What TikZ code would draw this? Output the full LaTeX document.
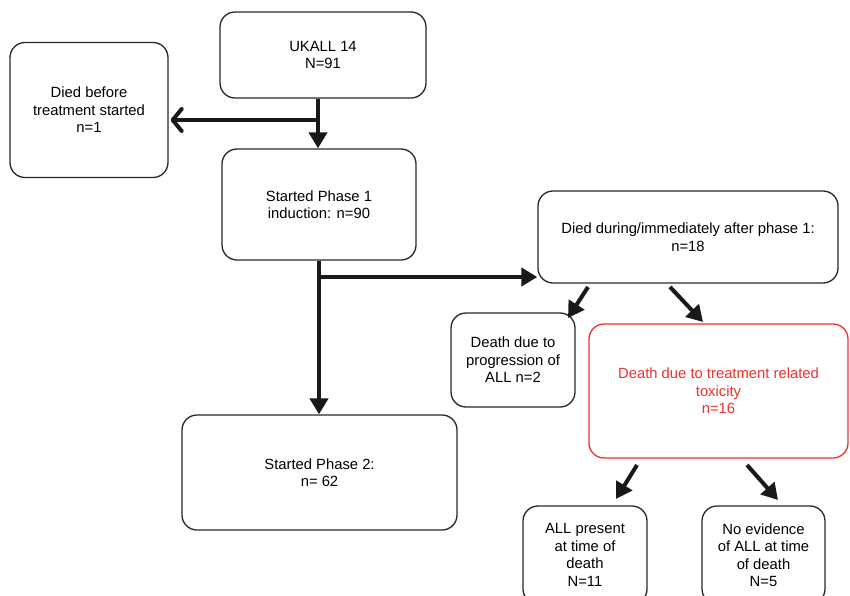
\documentclass[tikz,border=0pt]{standalone}
\usepackage{fontspec}
\setmainfont{Liberation Sans}
\usetikzlibrary{arrows.meta}
\definecolor{boxgray}{RGB}{40,40,40}
\definecolor{toxred}{RGB}{235,50,45}
\definecolor{arrowk}{RGB}{25,25,25}
\begin{document}
\begin{tikzpicture}[x=1pt,y=-1pt,
  box/.style={draw=boxgray,line width=1.3pt,rounded corners=15pt,align=center,
    font=\fontsize{14.8}{17.5}\selectfont,inner sep=2pt},
  redbox/.style={box,draw=toxred,text=toxred},
  arr/.style={draw=arrowk,line width=4pt,-{Triangle[length=16pt,width=18pt]}},
  barb/.style={draw=arrowk,line width=4pt,line cap=round,-{Straight Barb[length=9pt,width=22pt,round]}},
  ln/.style={draw=arrowk,line width=4pt}]
\useasboundingbox (0,0) rectangle (850,596);
\fill[white] (0,0) rectangle (850,596);
\begin{scope}
\clip (0,0) rectangle (850,596);
\node[box,minimum width=206pt,minimum height=86pt] (ukall) at (323,55) {UKALL 14\\N=91};
\node[box,minimum width=158pt,minimum height=135pt] (before) at (89,110) {Died before\\treatment started\\n=1};
\node[box,minimum width=194pt,minimum height=111pt] (p1) at (319,204.5) {Started Phase 1\\induction: n=90};
\node[box,minimum width=300pt,minimum height=92pt] (died) at (688,237) {Died during/immediately after phase 1:\\n=18};
\node[box,minimum width=124pt,minimum height=94pt] (prog) at (513,360) {Death due to\\progression of\\ALL n=2};
\node[redbox,minimum width=259pt,minimum height=134pt] (tox) at (718.5,391) {Death due to treatment related\\toxicity\\ n=16};
\node[box,minimum width=275pt,minimum height=115pt] (p2) at (319.5,472.5) {Started Phase 2:\\n= 62};
\node[box,minimum width=124pt,minimum height=98pt] (allp) at (585,555) {ALL present\\at time of\\death\\N=11};
\node[box,minimum width=123pt,minimum height=98pt] (noev) at (763.5,555) {No evidence\\of ALL at time\\of death\\N=5};
\end{scope}
% connectors
\coordinate (j1) at (318,120);
\coordinate (j2) at (319,277);
\draw[arr] (ukall.south -| j1) -- (p1.north -| j1);
\draw[barb] (j1) -- ([xshift=2pt]before.east |- j1);
\draw[arr] (p1.south -| j2) -- (p2.north -| j2);
\draw[arr] ([xshift=-2pt]j2) -- (died.west |- j2);
\coordinate (d1s) at (588,287);
\coordinate (d1e) at (568,318);
\coordinate (d2s) at (670,287);
\coordinate (d2e) at (703,322);
\coordinate (t1s) at (637,465);
\coordinate (t1e) at (616,499);
\coordinate (t2s) at (747,465);
\coordinate (t2e) at (778,500);
\draw[arr] (d1s) -- (d1e);
\draw[arr] (d2s) -- (d2e);
\draw[arr] (t1s) -- (t1e);
\draw[arr] (t2s) -- (t2e);
\end{tikzpicture}
\end{document}
